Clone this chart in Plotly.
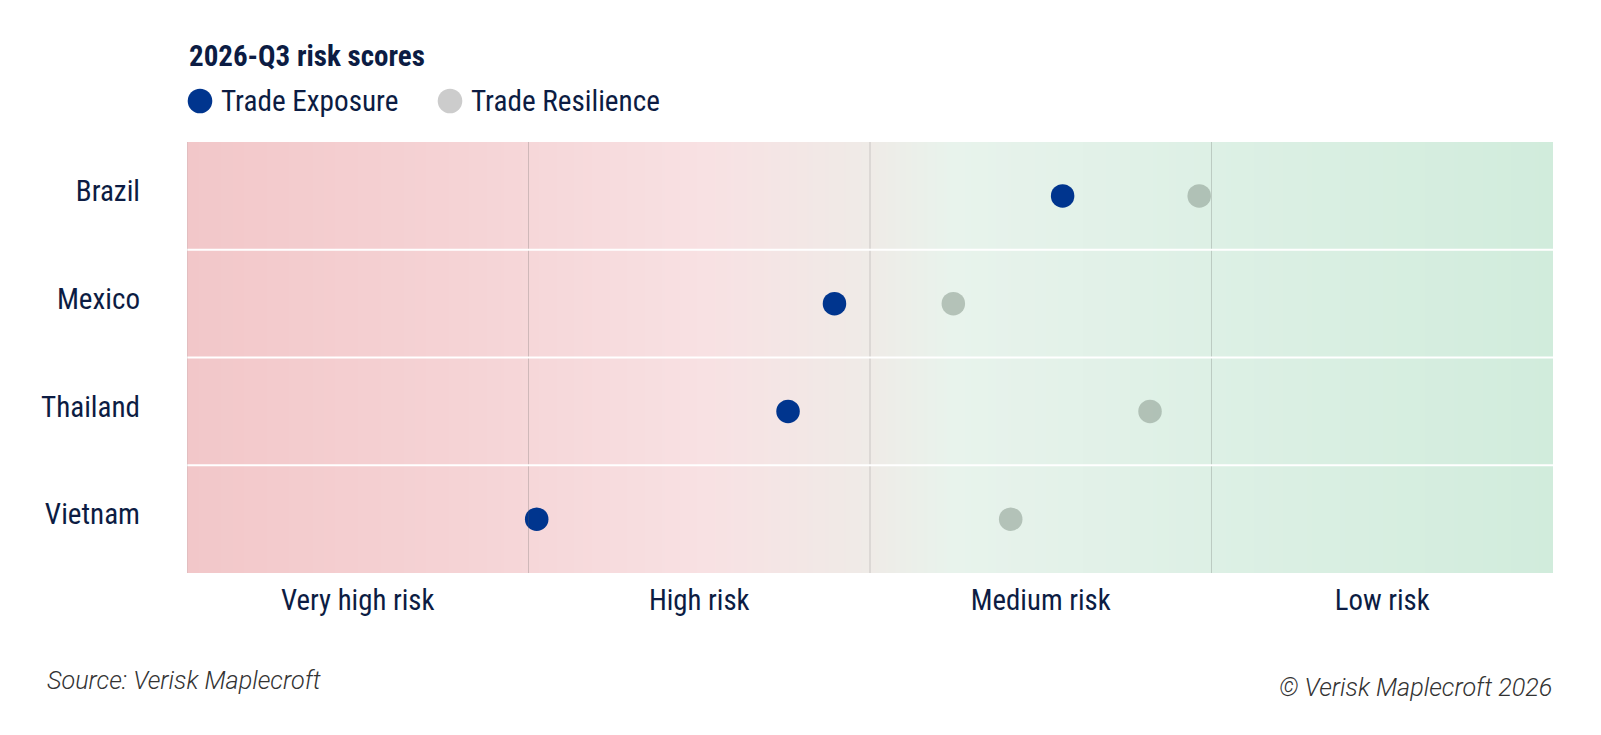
import plotly.graph_objects as go
import numpy as np

countries = ["Brazil", "Mexico", "Thailand", "Vietnam"]
trade_exposure = [6.41, 4.74, 4.40, 2.56]
trade_resilience = [7.41, 5.61, 7.05, 6.03]
band_labels = ["Very high risk", "High risk", "Medium risk", "Low risk"]
band_edges = [0, 2.5, 5, 7.5, 10]

NAVY = "#0c1c43"
BLUE = "#00358e"
FONT = "Roboto Condensed, Liberation Sans Narrow, Roboto, sans-serif"

fig = go.Figure()

# gradient background
gx = np.linspace(0, 10, 201)
fig.add_trace(go.Heatmap(
    x=gx, y=[-0.5, 3.5], z=[list((gx[:-1] + gx[1:]) / 2)],
    zmin=0, zmax=10, zsmooth="best", showscale=False, hoverinfo="skip",
    colorscale=[[0, "#f2c7c9"], [0.2, "#f5d3d5"], [0.38, "#f8e1e3"],
                [0.5, "#efebe7"], [0.56, "#e8f3ec"], [0.75, "#ddf0e5"],
                [1, "#d1ecdc"]],
))

ypos = list(range(len(countries)))
fig.add_trace(go.Scatter(
    x=trade_resilience, y=ypos, mode="markers", name="Trade Resilience",
    marker=dict(size=23.5, color="rgb(145,162,150)", opacity=0.6),
    showlegend=False, hoverinfo="skip",
))
fig.add_trace(go.Scatter(
    x=trade_exposure, y=ypos, mode="markers", name="Trade Exposure",
    marker=dict(size=23.5, color=BLUE),
    showlegend=False, hoverinfo="skip",
))

shapes = []
for e in band_edges[1:-1]:
    shapes.append(dict(type="line", xref="x", yref="y", x0=e, x1=e, y0=-0.5, y1=3.5,
                       line=dict(color="rgba(90,90,90,0.25)", width=1), layer="above"))
for b in [0.5, 1.5, 2.5]:
    shapes.append(dict(type="line", xref="x", yref="y", x0=0, x1=10, y0=b, y1=b,
                       line=dict(color="white", width=2), layer="above"))
shapes.append(dict(type="line", xref="x", yref="y", x0=0, x1=0, y0=-0.5, y1=3.5,
                   line=dict(color="rgba(150,150,150,0.35)", width=1), layer="above"))

# custom legend
W, H = 1601, 735
ml, mr, mt, mb = 187, 48, 142, 162
pw = W - ml - mr
ph = H - mt - mb
def px(xp):
    return (xp - ml) / pw
def py(yp):
    return (H - mb - yp) / ph

for cx, col in [(200, BLUE), (450, "#cccccc")]:
    shapes.append(dict(type="circle", xref="paper", yref="paper",
                       xsizemode="pixel", ysizemode="pixel",
                       xanchor=px(cx), yanchor=py(101),
                       x0=-12.3, x1=12.3, y0=-12.3, y1=12.3,
                       fillcolor=col, line=dict(width=0)))

annotations = [
    dict(text="<b>2026-Q3 risk scores</b>", xref="paper", yref="paper",
         x=px(187), y=py(56), xanchor="left", yanchor="middle", showarrow=False,
         font=dict(family=FONT, size=29, color=NAVY)),
    dict(text="Trade Exposure", xref="paper", yref="paper",
         x=px(219), y=py(101), xanchor="left", yanchor="middle", showarrow=False,
         font=dict(family=FONT, size=29.2, color=NAVY)),
    dict(text="Trade Resilience", xref="paper", yref="paper",
         x=px(469), y=py(101), xanchor="left", yanchor="middle", showarrow=False,
         font=dict(family=FONT, size=29.2, color=NAVY)),
    dict(text="Source: Verisk Maplecroft", xref="paper", yref="paper",
         x=px(45), y=py(680), xanchor="left", yanchor="middle", showarrow=False,
         font=dict(family="Roboto", size=25.2, color="#333333", style="italic", weight=300)),
    dict(text="© Verisk Maplecroft 2026", xref="paper", yref="paper",
         x=px(1554), y=py(687), xanchor="right", yanchor="middle", showarrow=False,
         font=dict(family="Roboto", size=25.2, color="#333333", style="italic", weight=300)),
]

band_centers = [(band_edges[i] + band_edges[i + 1]) / 2 for i in range(4)]

fig.update_layout(
    width=W, height=H,
    margin=dict(l=ml, r=mr, t=mt, b=mb, pad=0),
    paper_bgcolor="white", plot_bgcolor="white",
    shapes=shapes, annotations=annotations,
    showlegend=False, hovermode=False,
    xaxis=dict(range=[0, 10], tickvals=band_centers, ticktext=band_labels,
               showgrid=False, zeroline=False, showline=False, ticks="",
               ticklabelstandoff=7,
               tickfont=dict(family=FONT, size=28.8, color=NAVY)),
    yaxis=dict(range=[3.5, -0.5], tickvals=ypos, ticktext=countries,
               showgrid=False, zeroline=False, showline=False, ticks="",
               ticklabelstandoff=46, ticklabelshift=5,
               tickfont=dict(family=FONT, size=29.1, color=NAVY)),
)

fig.write_html("out.html", config={"displayModeBar": False, "staticPlot": True},
               post_script="document.body.style.margin='0';document.body.style.overflow='hidden';")
